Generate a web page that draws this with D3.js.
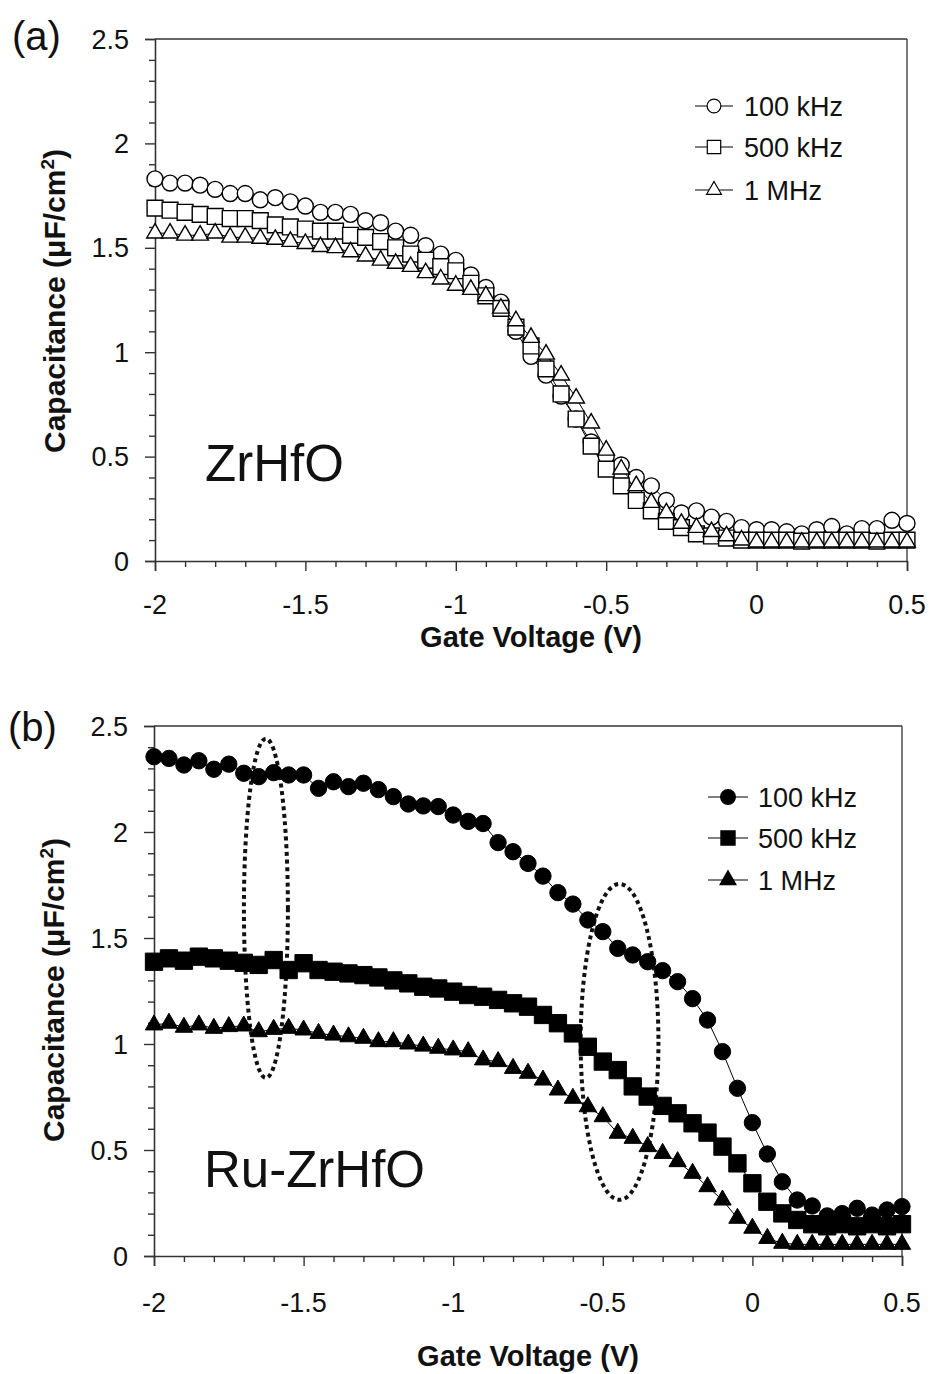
<!DOCTYPE html>
<html>
<head>
<meta charset="utf-8">
<script src="https://cdn.jsdelivr.net/npm/d3@7"></script>
<style>
  html, body { margin: 0; padding: 0; background: #fff; }
  svg { display: block; }
  text { font-family: "Liberation Sans", Arial, sans-serif; fill: #111; }
</style>
</head>
<body>
<svg id="chart" width="932" height="1374"></svg>
<script>
// ---------------- DATA ----------------
const voltage = [-2.00,-1.95,-1.90,-1.85,-1.80,-1.75,-1.70,-1.65,-1.60,-1.55,-1.50,-1.45,-1.40,-1.35,-1.30,-1.25,-1.20,-1.15,-1.10,-1.05,-1.00,-0.95,-0.90,-0.85,-0.80,-0.75,-0.70,-0.65,-0.60,-0.55,-0.50,-0.45,-0.40,-0.35,-0.30,-0.25,-0.20,-0.15,-0.10,-0.05,0.00,0.05,0.10,0.15,0.20,0.25,0.30,0.35,0.40,0.45,0.50];

const seriesNames = ["100 kHz", "500 kHz", "1 MHz"];
const xTicks = [-2, -1.5, -1, -0.5, 0, 0.5];
const xTickLabels = ["-2", "-1.5", "-1", "-0.5", "0", "0.5"];
const yTicks = [0, 0.5, 1, 1.5, 2, 2.5];
const yTickLabels = ["0", "0.5", "1", "1.5", "2", "2.5"];

// Panel (a) ZrHfO
const a100k = [1.83,1.81,1.81,1.80,1.78,1.76,1.76,1.73,1.74,1.72,1.70,1.67,1.67,1.66,1.63,1.62,1.58,1.56,1.51,1.47,1.44,1.37,1.31,1.24,1.10,0.98,0.89,0.79,0.68,0.57,0.50,0.46,0.40,0.36,0.29,0.23,0.24,0.21,0.19,0.16,0.15,0.15,0.14,0.13,0.15,0.165,0.13,0.155,0.155,0.195,0.18];
const a500k = [1.69,1.68,1.67,1.66,1.65,1.64,1.64,1.63,1.61,1.60,1.59,1.58,1.58,1.56,1.55,1.53,1.50,1.47,1.44,1.41,1.39,1.33,1.27,1.21,1.12,1.03,0.92,0.80,0.68,0.55,0.44,0.36,0.29,0.24,0.19,0.16,0.13,0.12,0.11,0.10,0.10,0.10,0.10,0.095,0.10,0.10,0.10,0.10,0.095,0.10,0.10];
const a1M   = [1.57,1.57,1.56,1.56,1.57,1.55,1.55,1.545,1.54,1.53,1.52,1.505,1.50,1.48,1.46,1.44,1.425,1.41,1.38,1.35,1.32,1.30,1.27,1.21,1.15,1.07,0.99,0.89,0.78,0.66,0.53,0.44,0.36,0.28,0.23,0.18,0.16,0.14,0.12,0.10,0.09,0.09,0.09,0.09,0.09,0.09,0.09,0.09,0.09,0.09,0.09];

// Panel (b) Ru-ZrHfO
const b100k = [2.355,2.347,2.316,2.336,2.296,2.32,2.277,2.261,2.28,2.269,2.269,2.206,2.237,2.214,2.23,2.20,2.167,2.132,2.123,2.12,2.08,2.05,2.04,1.95,1.907,1.852,1.792,1.714,1.66,1.585,1.53,1.451,1.42,1.388,1.346,1.294,1.214,1.113,0.964,0.791,0.629,0.481,0.35,0.264,0.236,0.189,0.20,0.225,0.193,0.217,0.233];
const b500k = [1.388,1.404,1.393,1.412,1.404,1.393,1.383,1.373,1.396,1.349,1.381,1.349,1.341,1.333,1.325,1.314,1.30,1.286,1.27,1.262,1.247,1.231,1.223,1.208,1.192,1.176,1.137,1.098,1.05,0.987,0.917,0.877,0.80,0.752,0.708,0.673,0.626,0.582,0.516,0.437,0.343,0.256,0.201,0.17,0.15,0.14,0.15,0.14,0.15,0.14,0.15];
const b1M   = [1.09,1.098,1.079,1.09,1.074,1.082,1.085,1.058,1.069,1.074,1.066,1.05,1.042,1.034,1.027,1.011,1.011,1.00,0.99,0.98,0.972,0.964,0.925,0.917,0.885,0.862,0.83,0.783,0.744,0.704,0.657,0.579,0.555,0.516,0.484,0.445,0.39,0.327,0.264,0.178,0.131,0.083,0.06,0.055,0.055,0.055,0.055,0.055,0.055,0.055,0.055];

// Dotted ellipse annotations in panel (b), data units
const ellipseCx = [-1.626, -0.444];
const ellipseCy = [1.64, 1.01];
const ellipseRx = [0.0735, 0.13];
const ellipseRy = [0.80, 0.745];

// ---------------- DRAW ----------------
const svg = d3.select("#chart");

function drawPanel(cfg) {
  const x = d3.scaleLinear().domain([-2, 0.5]).range([cfg.left, cfg.right]);
  const y = d3.scaleLinear().domain([0, 2.5]).range([cfg.bottom, cfg.top]);
  const g = svg.append("g");
  const axisColor = "#333";

  // frame top/right
  g.append("line").attr("x1", cfg.left).attr("x2", cfg.right).attr("y1", cfg.top).attr("y2", cfg.top)
    .attr("stroke", axisColor).attr("stroke-width", 1.3);
  g.append("line").attr("x1", cfg.right).attr("x2", cfg.right).attr("y1", cfg.top).attr("y2", cfg.bottom)
    .attr("stroke", axisColor).attr("stroke-width", 1.3);

  // minor ticks
  const xMinor = d3.range(-20, 6).map(d => d / 10).filter(v => !xTicks.some(t => Math.abs(t - v) < 1e-9));
  const yMinor = d3.range(0, 26).map(d => d / 10).filter(v => !yTicks.some(t => Math.abs(t - v) < 1e-9));

  const xAxis = g.append("g").attr("transform", `translate(0,${cfg.bottom})`)
    .call(d3.axisBottom(x).tickValues(xTicks).tickSize(10).tickFormat(""));
  xAxis.select(".domain").attr("stroke", axisColor).attr("stroke-width", 1.6);
  xAxis.selectAll(".tick line").attr("stroke", axisColor).attr("stroke-width", 1.4);
  const xAxisMinor = g.append("g").attr("transform", `translate(0,${cfg.bottom})`)
    .call(d3.axisBottom(x).tickValues(xMinor).tickSize(6).tickFormat(""));
  xAxisMinor.select(".domain").remove();
  xAxisMinor.selectAll(".tick line").attr("stroke", axisColor).attr("stroke-width", 1.4);

  const yAxis = g.append("g").attr("transform", `translate(${cfg.left},0)`)
    .call(d3.axisLeft(y).tickValues(yTicks).tickSize(10).tickFormat(""));
  yAxis.select(".domain").attr("stroke", axisColor).attr("stroke-width", 1.6);
  yAxis.selectAll(".tick line").attr("stroke", axisColor).attr("stroke-width", 1.4);
  const yAxisMinor = g.append("g").attr("transform", `translate(${cfg.left},0)`)
    .call(d3.axisLeft(y).tickValues(yMinor).tickSize(6).tickFormat(""));
  yAxisMinor.select(".domain").remove();
  yAxisMinor.selectAll(".tick line").attr("stroke", axisColor).attr("stroke-width", 1.4);

  // tick labels
  g.selectAll(".xl").data(xTicks).enter().append("text")
    .attr("x", d => x(d)).attr("y", cfg.bottom + cfg.xLabelOff)
    .attr("text-anchor", "middle").attr("font-size", 27).text((d, i) => xTickLabels[i]);
  g.selectAll(".yl").data(yTicks).enter().append("text")
    .attr("x", cfg.left - 26).attr("y", d => y(d) + 9.6)
    .attr("text-anchor", "end").attr("font-size", 27).text((d, i) => yTickLabels[i]);

  // axis titles
  g.append("text").attr("x", (cfg.left + cfg.right) / 2).attr("y", cfg.xTitleY)
    .attr("text-anchor", "middle").attr("font-size", 29).attr("font-weight", "bold")
    .text("Gate Voltage (V)");
  const yt = g.append("text").attr("transform", `translate(${cfg.yTitleX},${cfg.yTitleY}) rotate(-90)`)
    .attr("text-anchor", "middle").attr("font-size", 30).attr("font-weight", "bold");
  yt.append("tspan").text("Capacitance (μF/cm");
  yt.append("tspan").attr("dy", -11).attr("font-size", 19).text("2");
  yt.append("tspan").attr("dy", 11).text(")");

  // panel label and material label
  g.append("text").attr("x", cfg.labelX).attr("y", cfg.labelY).attr("font-size", 40).text(cfg.label);
  g.append("text").attr("x", cfg.left + 50).attr("y", cfg.matY).attr("font-size", 51).text(cfg.material);

  // annotations
  if (cfg.ellipses) {
    cfg.ellipses.cx.forEach((cx, i) => {
      g.append("ellipse")
        .attr("cx", x(cx)).attr("cy", y(cfg.ellipses.cy[i]))
        .attr("rx", x(cx + cfg.ellipses.rx[i]) - x(cx))
        .attr("ry", y(0) - y(cfg.ellipses.ry[i]))
        .attr("fill", "none").attr("stroke", "#111").attr("stroke-width", 4)
        .attr("stroke-dasharray", "4,3.6");
    });
  }

  const symbols = [d3.symbolCircle, d3.symbolSquare, d3.symbolTriangle];
  const sizes = cfg.sizes;
  const line = d3.line().x(d => x(d[0])).y(d => y(d[1]));

  cfg.series.forEach((vals) => {
    const pts = voltage.map((v, i) => [v, vals[i]]);
    g.append("path").datum(pts).attr("d", line)
      .attr("fill", "none").attr("stroke", "#000").attr("stroke-width", 1);
  });
  cfg.series.forEach((vals, si) => {
    const pts = voltage.map((v, i) => [v, vals[i]]);
    g.selectAll(null).data(pts).enter().append("path")
      .attr("transform", d => `translate(${x(d[0])},${y(d[1])})`)
      .attr("d", d3.symbol().type(symbols[si]).size(sizes[si]))
      .attr("fill", cfg.filled ? "#000" : "#fff")
      .attr("stroke", "#000").attr("stroke-width", cfg.filled ? 1 : 1.4);
  });

  // legend
  seriesNames.forEach((name, i) => {
    const ly = cfg.legY[i];
    g.append("line").attr("x1", cfg.legX0).attr("x2", cfg.legX1).attr("y1", ly).attr("y2", ly)
      .attr("stroke", "#000").attr("stroke-width", 1.2);
    g.append("path").attr("transform", `translate(${(cfg.legX0 + cfg.legX1) / 2},${ly})`)
      .attr("d", d3.symbol().type(symbols[i]).size(cfg.legSizes[i]))
      .attr("fill", cfg.filled ? "#000" : "#fff").attr("stroke", "#000").attr("stroke-width", 1.2);
    g.append("text").attr("x", cfg.legTextX).attr("y", ly + 9.5).attr("font-size", 27).text(name);
  });
}

drawPanel({
  left: 155, right: 907, top: 39, bottom: 561,
  xLabelOff: 53, xTitleY: 647, yTitleX: 65, yTitleY: 301,
  label: "(a)", labelX: 12, labelY: 50, material: "ZrHfO", matY: 481,
  series: [a100k, a500k, a1M], filled: false,
  sizes: [200, 250, 120],
  legX0: 695, legX1: 733, legY: [106, 147, 190], legTextX: 744, legSizes: [150, 180, 95]
});

drawPanel({
  left: 154, right: 902, top: 726, bottom: 1256,
  xLabelOff: 56, xTitleY: 1366, yTitleX: 63.5, yTitleY: 990,
  label: "(b)", labelX: 8, labelY: 741, material: "Ru-ZrHfO", matY: 1187,
  series: [b100k, b500k, b1M], filled: true,
  sizes: [210, 300, 130],
  legX0: 708, legX1: 748, legY: [797, 838, 880], legTextX: 758, legSizes: [170, 200, 110],
  ellipses: { cx: ellipseCx, cy: ellipseCy, rx: ellipseRx, ry: ellipseRy }
});
</script>
</body>
</html>
